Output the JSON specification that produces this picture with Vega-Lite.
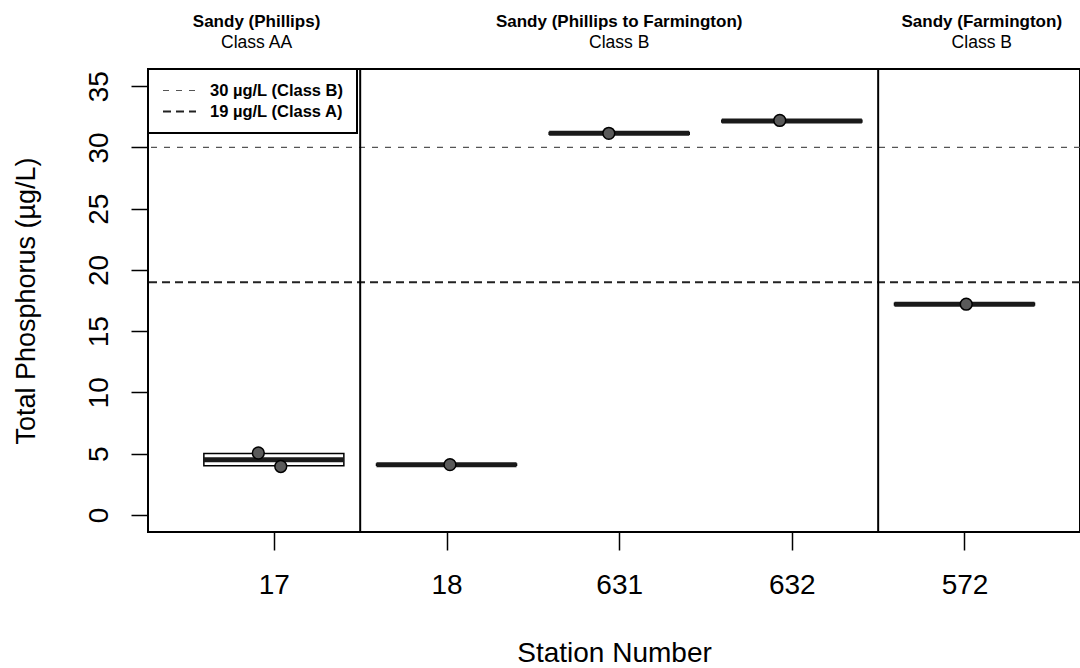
{
  "$schema": "https://vega.github.io/schema/vega-lite/v6.json",
  "width": 932,
  "height": 463,
  "autosize": {"type": "none"},
  "padding": {"left": 148, "top": 69, "right": 0, "bottom": 136},
  "background": "white",
  "config": {
    "font": "Liberation Sans",
    "view": {"stroke": "black", "strokeWidth": 2},
    "axis": {"grid": false, "domain": false, "tickColor": "black", "tickWidth": 1.5, "labelColor": "black", "titleColor": "black", "titleFontWeight": "normal", "labelFont": "Liberation Sans", "titleFont": "Liberation Sans"},
    "legend": {
      "orient": "top-left", "offset": 0, "padding": 13, "strokeColor": "black", "strokeWidth": 2, "fillColor": "white",
      "labelFontSize": 16.5, "labelFontWeight": "bold", "labelColor": "black", "labelFont": "Liberation Sans",
      "symbolType": "M-2.2,0H2.2", "symbolSize": 225, "symbolOffset": 10, "labelOffset": 22, "rowPadding": 4, "titlePadding": 0
    }
  },
  "datasets": {
    "criteria": [
      {"label": "30 µg/L (Class B)", "val": 30},
      {"label": "19 µg/L (Class A)", "val": 19}
    ],
    "dividers": [{"pos": 1.5}, {"pos": 4.5}],
    "boxes": [
      {"station": "17", "pos": 1, "lo": 4.0, "med": 4.5, "hi": 5.0},
      {"station": "18", "pos": 2, "lo": 4.05, "med": 4.1, "hi": 4.15},
      {"station": "631", "pos": 3, "lo": 31.08, "med": 31.15, "hi": 31.22},
      {"station": "632", "pos": 4, "lo": 32.08, "med": 32.15, "hi": 32.22},
      {"station": "572", "pos": 5, "lo": 17.13, "med": 17.2, "hi": 17.27}
    ],
    "obs": [
      {"station": "17", "pos": 0.91, "val": 5.05},
      {"station": "17", "pos": 1.04, "val": 3.95},
      {"station": "18", "pos": 2.02, "val": 4.1},
      {"station": "631", "pos": 2.94, "val": 31.15},
      {"station": "632", "pos": 3.93, "val": 32.2},
      {"station": "572", "pos": 5.01, "val": 17.2}
    ],
    "segments": [
      {"river": "Sandy (Phillips)", "cls": "Class AA", "pos": 0.9},
      {"river": "Sandy (Phillips to Farmington)", "cls": "Class B", "pos": 3.0},
      {"river": "Sandy (Farmington)", "cls": "Class B", "pos": 5.1}
    ]
  },
  "layer": [
    {
      "data": {"name": "obs"},
      "mark": {"type": "point", "shape": "circle", "filled": true, "size": 0, "opacity": 0},
      "encoding": {
        "x": {"field": "pos", "type": "quantitative", "scale": {"domain": [0.3, 5.64], "nice": false, "zero": false},
          "axis": {"values": [1, 2, 3, 4, 5], "labelExpr": "['','17','18','631','632','572'][datum.value]", "tickSize": 18, "labelFontSize": 28, "labelPadding": 21, "title": "Station Number", "titleFontSize": 28, "titlePadding": 40, "labelFlush": false}},
        "y": {"field": "val", "type": "quantitative", "scale": {"domain": [-1.4, 36.4], "nice": false, "zero": false},
          "axis": {"values": [0, 5, 10, 15, 20, 25, 30, 35], "tickSize": 17, "labelFontSize": 28, "labelAngle": -90, "labelAlign": "center", "labelBaseline": "bottom", "labelPadding": 18, "title": "Total Phosphorus (µg/L)", "titleFontSize": 27, "titlePadding": 45, "labelFlush": false}}
      }
    },
    {
      "data": {"name": "criteria"},
      "mark": {"type": "rule"},
      "encoding": {
        "y": {"field": "val", "type": "quantitative", "scale": {"domain": [-1.4, 36.4], "nice": false, "zero": false}},
        "color": {"field": "label", "type": "ordinal", "scale": {"domain": ["30 µg/L (Class B)", "19 µg/L (Class A)"], "range": ["#555555", "#222222"]}, "legend": {"title": null}},
        "strokeDash": {"field": "label", "type": "ordinal", "scale": {"domain": ["30 µg/L (Class B)", "19 µg/L (Class A)"], "range": [[6, 7], [8, 5]]}, "legend": {"title": null}},
        "strokeWidth": {"field": "label", "type": "ordinal", "scale": {"domain": ["30 µg/L (Class B)", "19 µg/L (Class A)"], "range": [1.2, 2]}, "legend": {"title": null}}
      }
    },
    {
      "data": {"name": "dividers"},
      "mark": {"type": "rule", "color": "black", "strokeWidth": 2},
      "encoding": {
        "x": {"field": "pos", "type": "quantitative", "scale": {"domain": [0.3, 5.64], "nice": false, "zero": false}}
      }
    },
    {
      "data": {"name": "boxes"},
      "mark": {"type": "bar", "width": 140, "fill": "white", "stroke": "black", "strokeWidth": 1.5},
      "encoding": {
        "x": {"field": "pos", "type": "quantitative", "scale": {"domain": [0.3, 5.64], "nice": false, "zero": false}},
        "y": {"field": "lo", "type": "quantitative", "scale": {"domain": [-1.4, 36.4], "nice": false, "zero": false}},
        "y2": {"field": "hi"}
      }
    },
    {
      "data": {"name": "boxes"},
      "mark": {"type": "tick", "orient": "horizontal", "size": 140, "thickness": 5, "color": "#1a1a1a", "opacity": 1},
      "encoding": {
        "x": {"field": "pos", "type": "quantitative", "scale": {"domain": [0.3, 5.64], "nice": false, "zero": false}},
        "y": {"field": "med", "type": "quantitative", "scale": {"domain": [-1.4, 36.4], "nice": false, "zero": false}}
      }
    },
    {
      "data": {"name": "obs"},
      "mark": {"type": "point", "shape": "circle", "filled": true, "size": 140, "fill": "#5a5a5a", "stroke": "black", "strokeWidth": 1.5, "opacity": 1},
      "encoding": {
        "x": {"field": "pos", "type": "quantitative", "scale": {"domain": [0.3, 5.64], "nice": false, "zero": false}},
        "y": {"field": "val", "type": "quantitative", "scale": {"domain": [-1.4, 36.4], "nice": false, "zero": false}}
      }
    },
    {
      "data": {"name": "segments"},
      "mark": {"type": "text", "fontWeight": "bold", "fontSize": 17, "baseline": "alphabetic", "color": "black"},
      "encoding": {
        "x": {"field": "pos", "type": "quantitative", "scale": {"domain": [0.3, 5.64], "nice": false, "zero": false}},
        "y": {"datum": 39.8, "scale": {"domain": [-1.4, 36.4], "nice": false, "zero": false}},
        "text": {"field": "river"}
      }
    },
    {
      "data": {"name": "segments"},
      "mark": {"type": "text", "fontSize": 17.5, "baseline": "alphabetic", "color": "black"},
      "encoding": {
        "x": {"field": "pos", "type": "quantitative", "scale": {"domain": [0.3, 5.64], "nice": false, "zero": false}},
        "y": {"datum": 38.15, "scale": {"domain": [-1.4, 36.4], "nice": false, "zero": false}},
        "text": {"field": "cls"}
      }
    }
  ]
}
